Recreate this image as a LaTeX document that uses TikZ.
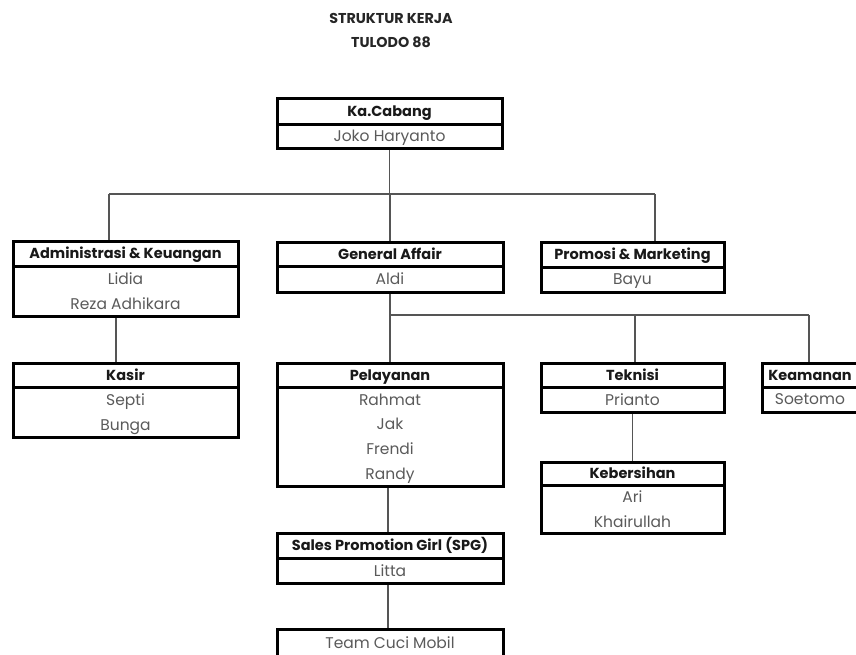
\documentclass[tikz,border=0pt]{standalone}
\usepackage{fontspec}
\setmainfont{Poppins}
\usetikzlibrary{backgrounds}
\definecolor{namegray}{HTML}{5A5A5A}
\definecolor{linegray}{HTML}{555555}
\begin{document}
\begin{tikzpicture}[x=1pt,y=-1pt,
  hd/.style={draw=black, fill=white, line width=3pt, anchor=north, inner sep=0pt, outer sep=0pt,
    text height=10.2pt, text depth=0pt,
    font=\bfseries\fontsize{14.5}{16}\selectfont, text=black!90},
  bd/.style={draw=black, fill=white, line width=3pt, anchor=north, inner sep=0pt, outer sep=0pt, align=center,
    text depth=0pt,
    font=\fontsize{15.5}{24.6}\selectfont, text=namegray},
  conn/.style={draw=linegray, line width=1.6pt},
  ttl/.style={font=\bfseries\fontsize{14.3}{16}\selectfont, text=black!85}]
\useasboundingbox (0,0) rectangle (856,654);
\clip (0,0) rectangle (856,654);

\node[ttl] (t1) at (391,18) {STRUKTUR KERJA};
\node[ttl] (t2) at (391,42) {TULODO 88};

% Ka.Cabang
\node[hd, minimum width=225pt, minimum height=26pt] (kch) at (389.5,98) {Ka.Cabang};
\node[bd, minimum width=225pt, minimum height=24pt] (kcb) at (kch.south) {Joko Haryanto};
% Administrasi
\node[hd, minimum width=225pt, minimum height=25pt] (adh) at (125.5,241) {Administrasi \& Keuangan};
\node[bd, minimum width=225pt, minimum height=50pt] (adb) at (adh.south) {Lidia\\Reza Adhikara};
% General Affair
\node[hd, minimum width=226pt, minimum height=24pt] (gah) at (390,242) {General Affair};
\node[bd, minimum width=226pt, minimum height=26pt] (gab) at (gah.south) {Aldi};
% Promosi
\node[hd, minimum width=183pt, minimum height=25pt] (pmh) at (632.5,242) {Promosi \& Marketing};
\node[bd, minimum width=183pt, minimum height=25pt] (pmb) at (pmh.south) {Bayu};
% Kasir
\node[hd, minimum width=225pt, minimum height=24pt] (ksh) at (125.5,363) {Kasir};
\node[bd, minimum width=225pt, minimum height=50pt] (ksb) at (ksh.south) {Septi\\Bunga};
% Pelayanan
\node[hd, minimum width=226pt, minimum height=24pt] (plh) at (390,363) {Pelayanan};
\node[bd, minimum width=226pt, minimum height=99pt] (plb) at (plh.south) {Rahmat\\Jak\\Frendi\\Randy};
% Teknisi
\node[hd, minimum width=183pt, minimum height=24pt] (tkh) at (632.5,363) {Teknisi};
\node[bd, minimum width=183pt, minimum height=25pt] (tkb) at (tkh.south) {Prianto};
% Keamanan
\node[hd, minimum width=96pt, minimum height=24pt] (kmh) at (810,363) {Keamanan};
\node[bd, minimum width=96pt, minimum height=25pt] (kmb) at (kmh.south) {Soetomo};
% Kebersihan
\node[hd, minimum width=183pt, minimum height=23pt] (kbh) at (632.5,462) {Kebersihan};
\node[bd, minimum width=183pt, minimum height=48pt] (kbb) at (kbh.south) {Ari\\Khairullah};
% SPG
\node[hd, minimum width=226pt, minimum height=25pt] (sph) at (390,533) {Sales Promotion Girl (SPG)};
\node[bd, minimum width=226pt, minimum height=25pt] (spb) at (sph.south) {Litta};
% Team Cuci Mobil
\node[bd, minimum width=226pt, minimum height=28pt] (tcm) at (390,629) {Team Cuci Mobil};

% bus coordinates
\coordinate (busL) at (109,194);
\coordinate (busR) at (655,194);
\coordinate (bus2L) at (390,315);
\coordinate (bus2R) at (809,315);
\coordinate (bus2M) at (635,315);

\begin{scope}[on background layer]
\draw[conn] (kcb.south) -- (kcb.south |- busL);
\draw[conn] (busL) -- (busR);
\draw[conn] (busL) -- (busL |- adh.north);
\draw[conn] (gah.north |- busL) -- (gah.north);
\draw[conn] (busR) -- (busR |- pmh.north);
\draw[conn] (gab.south) -- (plh.north);
\draw[conn] (bus2L) -- (bus2R);
\draw[conn] (bus2M) -- (bus2M |- tkh.north);
\draw[conn] (bus2R) -- (bus2R |- kmh.north);
\draw[conn] ([xshift=-9.5pt]adb.south) -- ([xshift=-9.5pt]ksh.north);
\draw[conn] (tkb.south) -- (tkb.south |- kbh.north);
\draw[conn] ([xshift=-2pt]plb.south) -- ([xshift=-2pt]sph.north);
\draw[conn] ([xshift=-2pt]spb.south) -- ([xshift=-2pt]tcm.north);
\end{scope}
\end{tikzpicture}
\end{document}
